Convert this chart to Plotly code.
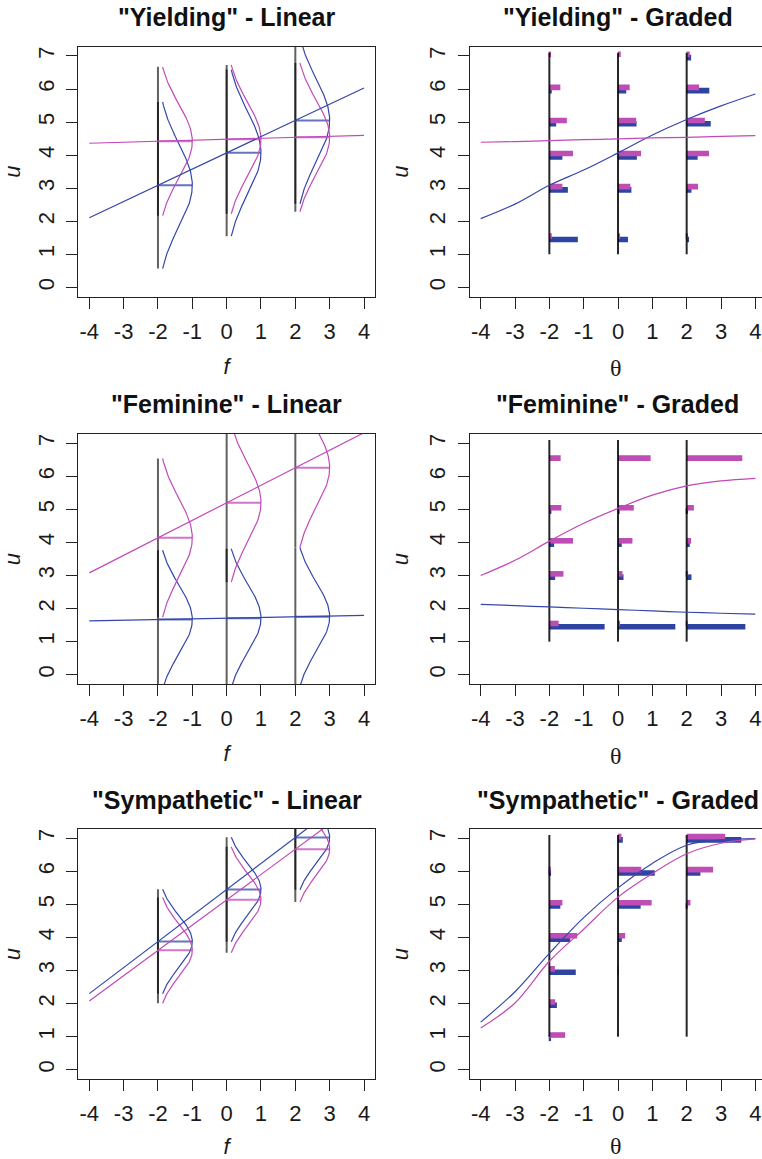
import numpy as np
import plotly.graph_objects as go

W, H = 762, 1159

# ---------------- data ----------------
x_ticks = [-4, -3, -2, -1, 0, 1, 2, 3, 4]
u_ticks = [0, 1, 2, 3, 4, 5, 6, 7]
cond_points = [-2, 0, 2]

titles = ['"Yielding" - Linear', '"Yielding" - Graded',
          '"Feminine" - Linear', '"Feminine" - Graded',
          '"Sympathetic" - Linear', '"Sympathetic" - Graded']

# Linear factor model per group: [blue group, magenta group]
yielding_intercept = [4.07, 4.48]
yielding_slope = [0.49, 0.03]
yielding_sd = [1.26, 1.125]

feminine_intercept = [1.71, 5.20]
feminine_slope = [0.021, 0.53]
feminine_sd = [1.05, 1.20]

sympathetic_intercept = [5.45, 5.14]
sympathetic_slope = [0.787, 0.765]
sympathetic_sd = [0.79, 0.80]

# Graded response model: expected score curves read at theta grid
theta_grid = [-4, -3, -2, -1, 0, 1, 2, 3, 4]
yielding_curve_blue = [2.08, 2.52, 3.09, 3.55, 4.07, 4.61, 5.08, 5.49, 5.85]
yielding_curve_magenta = [4.39, 4.41, 4.44, 4.47, 4.49, 4.52, 4.54, 4.57, 4.59]
feminine_curve_blue = [2.13, 2.09, 2.05, 2.01, 1.97, 1.93, 1.89, 1.86, 1.83]
feminine_curve_magenta = [3.00, 3.46, 4.04, 4.58, 5.03, 5.43, 5.71, 5.86, 5.94]
sympathetic_curve_blue = [1.44, 2.36, 3.52, 4.60, 5.50, 6.24, 6.79, 6.95, 6.99]
sympathetic_curve_magenta = [1.26, 2.02, 3.28, 4.25, 5.22, 5.93, 6.53, 6.85, 6.98]

# Category probabilities at theta = -2, 0, 2
yielding_cats = [1.5, 3, 4, 5, 6, 7]
yielding_prob_blue = [[0.415, 0.27, 0.19, 0.10, 0.035, 0.0],
                      [0.145, 0.195, 0.275, 0.27, 0.12, 0.0],
                      [0.035, 0.07, 0.16, 0.35, 0.33, 0.065]]
yielding_prob_magenta = [[0.035, 0.19, 0.345, 0.255, 0.16, 0.025],
                         [0.03, 0.18, 0.335, 0.265, 0.17, 0.04],
                         [0.02, 0.165, 0.325, 0.265, 0.18, 0.045]]

feminine_cats = [1.5, 3, 4, 5, 6.5]
feminine_prob_blue = [[0.805, 0.085, 0.07, 0.03, 0.0],
                      [0.835, 0.08, 0.055, 0.02, 0.0],
                      [0.855, 0.07, 0.045, 0.02, 0.0]]
feminine_prob_magenta = [[0.135, 0.205, 0.345, 0.175, 0.165],
                         [0.03, 0.065, 0.21, 0.23, 0.475],
                         [0.01, 0.02, 0.065, 0.105, 0.81]]

sympathetic_cats = [1, 2, 3, 4, 5, 6, 7]
sympathetic_prob_blue = [[0.025, 0.11, 0.385, 0.305, 0.16, 0.025, 0.0],
                         [0.0, 0.0, 0.01, 0.055, 0.33, 0.535, 0.07],
                         [0.0, 0.0, 0.0, 0.0, 0.005, 0.2, 0.795]]
sympathetic_prob_magenta = [[0.23, 0.085, 0.08, 0.405, 0.19, 0.02, 0.0],
                            [0.0, 0.0, 0.01, 0.105, 0.49, 0.34, 0.05],
                            [0.0, 0.0, 0.0, 0.0, 0.055, 0.385, 0.56]]

# ---------------- style ----------------
BLUE = "#3446AC"
MAGENTA = "#C249B8"
BAR_BLUE = "#2E44A2"
BAR_MAGENTA = "#BE4DB5"
VLINE = "rgba(0,0,0,0.62)"
AX = "#222222"
FONT = "Liberation Sans, Arial, sans-serif"
BAR_SCALE = 2.0
BAR_OFF = 0.05
BAR_W = 0.17

XR_LEFT = [-4.32, 4.32]
# right column is cut by the page edge
col_px = [(78.3, 375.0), (469.7, 762.0)]
ppu = 34.33
XR_RIGHT = [-4.32, -4.32 + (762.0 - 469.7) / ppu]
row_px = [(46.7, 296.7), (434.0, 684.0), (829.0, 1079.0)]
YR = [-0.28, 7.28]

fig = go.Figure()


def ax_names(i):
    return ("x" if i == 1 else f"x{i}"), ("y" if i == 1 else f"y{i}")


def add_linear(i, intercepts, slopes, sds):
    xa, ya = ax_names(i)
    colors = [BLUE, MAGENTA]
    # vertical guide lines
    for g in range(2):
        for f in cond_points:
            mu = intercepts[g] + slopes[g] * f
            fig.add_trace(go.Scatter(x=[f, f], y=[mu - 2 * sds[g], mu + 2 * sds[g]], mode="lines",
                                     line=dict(color=VLINE, width=2), xaxis=xa, yaxis=ya,
                                     hoverinfo="skip"))
    for g in range(2):
        for f in cond_points:
            mu = intercepts[g] + slopes[g] * f
            yy = np.linspace(mu - 2 * sds[g], mu + 2 * sds[g], 120)
            xx = f + np.exp(-0.5 * ((yy - mu) / sds[g]) ** 2)
            fig.add_trace(go.Scatter(x=xx, y=yy, mode="lines", line=dict(color=colors[g], width=1.2),
                                     xaxis=xa, yaxis=ya, hoverinfo="skip"))
            fig.add_trace(go.Scatter(x=[f, f + 1], y=[mu, mu], mode="lines",
                                     line=dict(color=colors[g], width=2), opacity=0.75,
                                     xaxis=xa, yaxis=ya, hoverinfo="skip"))
    for g in range(2):
        xs = np.array([-4.0, 4.0])
        fig.add_trace(go.Scatter(x=xs, y=intercepts[g] + slopes[g] * xs, mode="lines",
                                 line=dict(color=colors[g], width=1.2), xaxis=xa, yaxis=ya,
                                 hoverinfo="skip"))


def add_graded(i, cats, prob_blue, prob_mag, curve_blue, curve_mag):
    xa, ya = ax_names(i)
    for f in cond_points:
        fig.add_trace(go.Scatter(x=[f, f], y=[1.0, 7.1], mode="lines",
                                 line=dict(color="rgba(0,0,0,0.85)", width=2),
                                 xaxis=xa, yaxis=ya, hoverinfo="skip"))
    for probs, off, col in ((prob_blue, -BAR_OFF, BAR_BLUE), (prob_mag, BAR_OFF, BAR_MAGENTA)):
        ys, lens, bases = [], [], []
        for k, f in enumerate(cond_points):
            for c, p in zip(cats, probs[k]):
                if p > 0:
                    ys.append(c + off)
                    lens.append(BAR_SCALE * p)
                    bases.append(f)
        fig.add_trace(go.Bar(orientation="h", y=ys, x=lens, base=bases, width=BAR_W,
                             marker=dict(color=col, line=dict(width=0)),
                             xaxis=xa, yaxis=ya, hoverinfo="skip"))
    for curve, col in ((curve_blue, BLUE), (curve_mag, MAGENTA)):
        fig.add_trace(go.Scatter(x=theta_grid, y=curve, mode="lines",
                                 line=dict(color=col, width=1.2, shape="spline", smoothing=1.0),
                                 xaxis=xa, yaxis=ya, hoverinfo="skip"))


add_linear(1, yielding_intercept, yielding_slope, yielding_sd)
add_graded(2, yielding_cats, yielding_prob_blue, yielding_prob_magenta,
           yielding_curve_blue, yielding_curve_magenta)
add_linear(3, feminine_intercept, feminine_slope, feminine_sd)
add_graded(4, feminine_cats, feminine_prob_blue, feminine_prob_magenta,
           feminine_curve_blue, feminine_curve_magenta)
add_linear(5, sympathetic_intercept, sympathetic_slope, sympathetic_sd)
add_graded(6, sympathetic_cats, sympathetic_prob_blue, sympathetic_prob_magenta,
           sympathetic_curve_blue, sympathetic_curve_magenta)

layout = dict(width=W, height=H, margin=dict(l=0, r=0, t=0, b=0),
              paper_bgcolor="white", plot_bgcolor="white", showlegend=False,
              barmode="overlay", font=dict(family=FONT, color="#1a1a1a"))

annotations = []
for i in range(1, 7):
    r = (i - 1) // 2
    c = (i - 1) % 2
    x0, x1 = col_px[c]
    top, bot = row_px[r]
    xd = [x0 / W, x1 / W]
    yd = [1 - bot / H, 1 - top / H]
    xkey = "xaxis" if i == 1 else f"xaxis{i}"
    ykey = "yaxis" if i == 1 else f"yaxis{i}"
    xa, ya = ax_names(i)
    common = dict(showgrid=False, zeroline=False, showline=True, linecolor=AX, linewidth=1,
                  ticks="outside", ticklen=11, tickwidth=1, tickcolor=AX,
                  tickfont=dict(size=22, family=FONT, color="#1a1a1a"), automargin=False)
    if c == 0:
        xtitle = dict(text="<i>f</i>", font=dict(size=22, family=FONT), standoff=15)
    else:
        xtitle = dict(text="θ", font=dict(size=24, family="Liberation Serif, serif"), standoff=16)
    layout[xkey] = dict(domain=xd, range=XR_LEFT if c == 0 else XR_RIGHT, anchor=ya,
                        tickvals=x_ticks, ticktext=[str(v) for v in x_ticks],
                        mirror=True, title=xtitle, ticklabelstandoff=4, **common)
    layout[ykey] = dict(domain=yd, range=YR, anchor=xa, tickvals=u_ticks,
                        ticktext=[str(v) for v in u_ticks], tickangle=-90,
                        mirror=(c == 0), ticklabelstandoff=4,
                        title=dict(text="<i>u</i>", font=dict(size=22, family=FONT), standoff=10),
                        **common)
    # subplot title
    cx = (x0 + (x1 if c == 0 else 766.0)) / 2
    annotations.append(dict(text="<b>" + titles[i - 1] + "</b>", xref="paper", yref="paper",
                            x=cx / W, y=1 - (top - 29.5) / H, xanchor="center", yanchor="middle",
                            showarrow=False, font=dict(size=25, family=FONT, color="#111111")))

layout["annotations"] = annotations
fig.update_layout(**layout)
fig.write_html("out.html")
